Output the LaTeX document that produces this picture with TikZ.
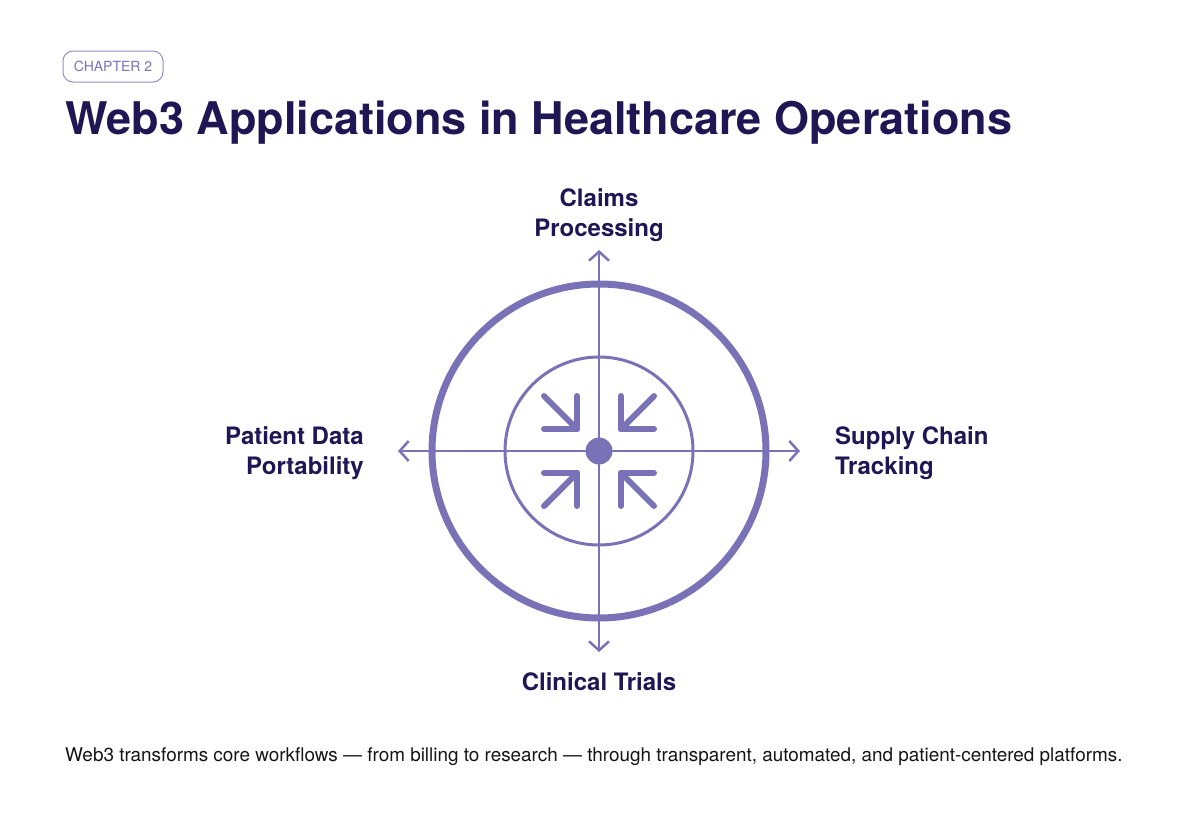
\documentclass[tikz,border=0pt]{standalone}
\usepackage{fontspec}
\setmainfont{TeX Gyre Heros}
\usetikzlibrary{arrows.meta, positioning, calc}
\definecolor{navy}{HTML}{1F1654}
\definecolor{lav}{HTML}{7A72B7}
\definecolor{ink}{HTML}{151515}

\begin{document}
\begin{tikzpicture}[
    x=1pt, y=-1pt,   % work in picture pixels, y pointing down
    lbl/.style={text=navy, font=\fontsize{24}{30}\selectfont\bfseries, inner sep=0pt},
    ring/.style={draw=lav, circle, inner sep=0pt},
    axis/.style={draw=lav, line width=2.5pt, {Straight Barb[length=9pt,width=20pt]}-{Straight Barb[length=9pt,width=20pt]}},
    pull/.style={draw=lav, line width=6pt, line cap=round, line join=round}
]
\useasboundingbox (0,0) rectangle (1200,819);

% Header
\node[draw=lav!80, line width=1pt, rounded corners=10pt, minimum width=100pt, minimum height=31pt,
      text=lav, font=\fontsize{14}{16}\selectfont] (chap) at (113,66.5) {CHAPTER 2};
\node[anchor=base west, inner sep=0pt, text=navy, font=\fontsize{45}{50}\selectfont\bfseries] (title) at (65,134)
    {Web3 Applications in Healthcare Operations};

% Rings and hub
\node[ring, line width=7pt, minimum size=334pt] (outer) at (599,451) {};
\node[ring, line width=3pt, minimum size=188pt] (inner) at (outer.center) {};
\node[circle, fill=lav, inner sep=0pt, minimum size=27pt] (hub) at (outer.center) {};

% Axes
\coordinate (top) at (599,250);
\coordinate (bot) at (599,652);
\coordinate (west) at (398,451);
\coordinate (east) at (800,451);
\draw[axis] (bot) -- (top);
\draw[axis] (west) -- (east);

% Inward arrows
\foreach \sx/\sy in {-1/-1, 1/-1, -1/1, 1/1} {
    \draw[pull] ($(hub)+(\sx*55,\sy*55)$) -- ($(hub)+(\sx*22,\sy*22)$);
    \draw[pull] ($(hub)+(\sx*55,\sy*22)$) -- ($(hub)+(\sx*22,\sy*22)$) -- ($(hub)+(\sx*22,\sy*55)$);
}

% Labels
\node[lbl, align=center, anchor=north] (claims) at (599,188) {Claims\\Processing};
\node[lbl, align=right, anchor=north east] (patient) at (364,426) {Patient Data\\Portability};
\node[lbl, align=left, anchor=north west] (supply) at (835,426) {Supply Chain\\Tracking};
\node[lbl, anchor=north] (trials) at (599,672) {Clinical Trials};

% Caption
\node[anchor=base west, inner sep=0pt, text=ink, font=\fontsize{18.9}{22}\selectfont] (caption) at (65,761)
    {Web3 transforms core workflows — from billing to research — through transparent, automated, and patient-centered platforms.};

\end{tikzpicture}
\end{document}
